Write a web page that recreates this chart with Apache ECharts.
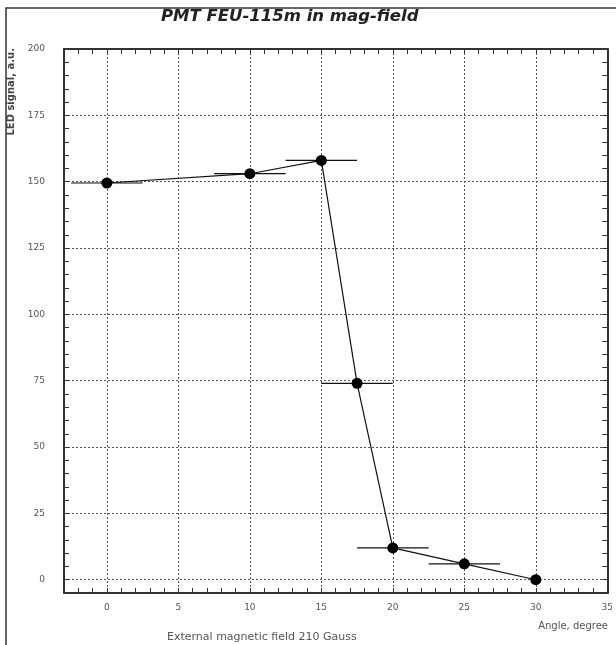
<!DOCTYPE html>
<html>
<head>
<meta charset="utf-8">
<script src="https://cdn.jsdelivr.net/npm/echarts@6/dist/echarts.min.js"></script>
<style>
  html, body { margin: 0; padding: 0; background: #fff; }
  #chart { width: 616px; height: 645px; }
</style>
</head>
<body>
<div id="chart"></div>
<script>
// measured points (angle, signal) and horizontal error (+/- deg)
const angles = [0, 10, 15, 17.5, 20, 25, 30]
const signal = [149.5, 153, 158, 74, 12, 6, 0]
const angleErr = [2.5, 2.5, 2.5, 2.5, 2.5, 2.5, 0]

const xTicks = [0, 5, 10, 15, 20, 25, 30, 35]
const yTicks = [0, 25, 50, 75, 100, 125, 150, 175, 200]

const labelStyle = { color: '#555', fontSize: 9, fontFamily: 'DejaVu Sans' }
const gridLine = { show: true, lineStyle: { color: '#555', type: [2, 2], width: 1 } }

const chart = echarts.init(document.getElementById('chart'))

function minorAxis(pos, min, max, step, labels, extra) {
  return Object.assign({
    type: 'value',
    position: pos,
    min: min,
    max: max,
    interval: step,
    axisLine: { show: true, onZero: false, lineStyle: { color: '#333', width: 2 } },
    axisTick: { show: true, inside: true, length: 5, lineStyle: { color: '#333', width: 1 } },
    axisLabel: labels ? Object.assign({
      formatter: function (v) { return labels.indexOf(v) >= 0 ? String(v) : '' }
    }, labelStyle) : { show: false },
    splitLine: { show: false }
  }, extra || {})
}

function gridAxis(pos, min, max, ticks) {
  return {
    type: 'value',
    position: pos,
    min: min,
    max: max,
    axisLine: { show: false },
    axisTick: { show: false, customValues: ticks },
    axisLabel: { show: false, customValues: ticks },
    splitLine: gridLine
  }
}

chart.setOption({
  backgroundColor: '#fff',
  animation: false,
  title: {
    text: 'PMT FEU-115m in mag-field',
    left: 156,
    top: 3,
    textStyle: { fontFamily: 'DejaVu Sans', fontStyle: 'italic', fontWeight: 'bold', fontSize: 16.5, color: '#222' }
  },
  grid: { left: 64, right: 6, top: 49, bottom: 52 },
  xAxis: [
    minorAxis('bottom', -3, 35, 1, xTicks, { axisLabel: Object.assign({
      margin: 10,
      formatter: function (v) { return xTicks.indexOf(v) >= 0 ? String(v) : '' }
    }, labelStyle) }),
    minorAxis('top', -3, 35, 1, null),
    gridAxis('bottom', -3, 35, xTicks)
  ],
  yAxis: [
    minorAxis('left', -5, 200, 5, yTicks, { axisLabel: Object.assign({
      margin: 19,
      formatter: function (v) { return yTicks.indexOf(v) >= 0 ? String(v) : '' }
    }, labelStyle) }),
    minorAxis('right', -5, 200, 5, null),
    gridAxis('left', -5, 200, yTicks)
  ],
  graphic: [
    {
      type: 'rect',
      shape: { x: 6, y: 8, width: 640, height: 680 },
      style: { fill: 'none', stroke: '#333', lineWidth: 1.5 },
      silent: true
    },
    {
      type: 'text',
      left: 6,
      top: 48,
      rotation: Math.PI / 2,
      style: { text: 'LED signal, a.u.', fill: '#444', font: 'bold 10px DejaVu Sans' }
    },
    {
      type: 'text',
      right: 8,
      top: 621,
      style: { text: 'Angle, degree', fill: '#555', font: '10px DejaVu Sans' }
    },
    {
      type: 'text',
      left: 167,
      top: 632,
      style: { text: 'External magnetic field 210 Gauss', fill: '#555', font: '11px DejaVu Sans' }
    }
  ],
  series: [
    {
      type: 'custom',
      name: 'error',
      renderItem: function (params, api) {
        const x = api.value(0), y = api.value(1), e = api.value(2)
        if (!e) return null
        const p1 = api.coord([x - e, y])
        const p2 = api.coord([x + e, y])
        return {
          type: 'line',
          shape: { x1: p1[0], y1: p1[1], x2: p2[0], y2: p2[1] },
          style: { stroke: '#111', lineWidth: 1.2 }
        }
      },
      data: angles.map((a, i) => [a, signal[i], angleErr[i]]),
      z: 3
    },
    {
      type: 'line',
      name: 'signal',
      data: angles.map((a, i) => [a, signal[i]]),
      symbol: 'circle',
      symbolSize: 11,
      itemStyle: { color: '#000' },
      lineStyle: { color: '#111', width: 1.2 },
      z: 4
    }
  ]
})
</script>
</body>
</html>
